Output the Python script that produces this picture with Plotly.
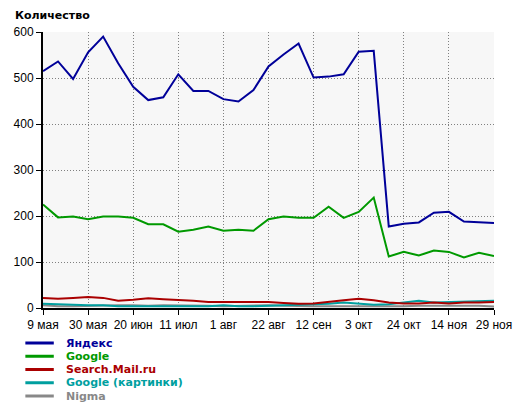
import plotly.graph_objects as go

# ---- data (weekly points) ----
week_index = list(range(31))
tick_positions = [0, 3, 6, 9, 12, 15, 18, 21, 24, 27, 30]
tick_labels = ["9 мая", "30 мая", "20 июн", "11 июл", "1 авг", "22 авг",
               "12 сен", "3 окт", "24 окт", "14 ноя", "29 ноя"]

yandex = [515, 536, 498, 556, 590, 532, 481, 452, 458, 508, 472, 472, 454, 449, 474, 525,
          551, 575, 501, 503, 508, 557, 559, 177, 183, 186, 207, 209, 188, 187, 185]
google = [225, 197, 199, 193, 199, 199, 196, 182, 182, 166, 170, 177, 168, 170, 168, 193,
          199, 196, 196, 220, 196, 209, 240, 112, 122, 114, 125, 122, 110, 120, 113]
search_mail = [22, 20, 22, 24, 22, 16, 18, 21, 19, 18, 16, 13, 13, 12, 12, 13,
               11, 9, 10, 14, 17, 20, 17, 12, 10, 10, 12, 10, 12, 12, 13]
google_images = [9, 8, 6, 6, 6, 4, 4, 4, 4, 4, 4, 4, 6, 4, 4, 5,
                 6, 7, 7, 9, 12, 10, 7, 8, 12, 16, 12, 13, 13, 15, 16]
nigma = [6, 4, 4, 5, 5, 6, 6, 5, 6, 6, 5, 5, 4, 5, 6, 6,
         5, 4, 4, 4, 4, 4, 4, 3, 4, 5, 5, 5, 5, 5, 3]

series_names = ["Яндекс", "Google", "Search.Mail.ru", "Google (картинки)", "Nigma"]
series_values = [yandex, google, search_mail, google_images, nigma]
series_colors = ["#000099", "#009900", "#aa0000", "#009f9f", "#888888"]

y_ticks = [0, 100, 200, 300, 400, 500, 600]

fig = go.Figure()
# draw in reverse so Яндекс is on top
for name, vals, col in reversed(list(zip(series_names, series_values, series_colors))):
    fig.add_trace(go.Scatter(x=week_index, y=vals, mode="lines", name=name,
                             line=dict(color=col, width=2), showlegend=False))

W, H = 524, 408
L, R, T, B = 43, 21, 32, 100
pw, ph = W - L - R, H - T - B

def px_to_paper_x(px):
    return (px - L) / pw

def py_to_paper_y(py):
    return (H - B - py) / ph

# manual compact legend
for i, (name, col) in enumerate(zip(series_names, series_colors)):
    py = 343 + i * 13.25
    yy = py_to_paper_y(py)
    fig.add_shape(type="line", xref="paper", yref="paper",
                  x0=px_to_paper_x(25), x1=px_to_paper_x(54), y0=yy, y1=yy,
                  line=dict(color=col, width=3))
    fig.add_annotation(xref="paper", yref="paper", x=px_to_paper_x(64), y=yy,
                       xanchor="left", yanchor="middle", showarrow=False,
                       text="<b>%s</b>" % name,
                       font=dict(family="DejaVu Sans", size=11, color=col))

fig.update_layout(
    width=W, height=H,
    margin=dict(l=L, r=R, t=T, b=B, pad=0),
    paper_bgcolor="white",
    plot_bgcolor="#f7f7f7",
    title=dict(text="<b>Количество</b>", x=15 / W, xanchor="left",
               y=1 - 15 / H, yanchor="middle", xref="container", yref="container",
               font=dict(family="DejaVu Sans", size=11, color="black")),
    font=dict(family="Liberation Sans", size=11, color="black"),
    showlegend=False,
)
fig.update_xaxes(range=[0, 30], tickmode="array", tickvals=tick_positions, ticktext=tick_labels,
                 showline=True, linecolor="black", linewidth=2,
                 ticks="outside", ticklen=5, tickcolor="black", tickwidth=1,
                 showgrid=True, gridcolor="#808080", griddash="1px,2px", gridwidth=1,
                 zeroline=False, tickfont=dict(size=12))
fig.update_yaxes(range=[0, 600], tickmode="array", tickvals=y_ticks,
                 showline=True, linecolor="black", linewidth=2,
                 ticks="outside", ticklen=5, tickcolor="black", tickwidth=1,
                 showgrid=True, gridcolor="#808080", griddash="1px,2px", gridwidth=1,
                 zeroline=False, tickfont=dict(size=12))

fig.write_html("out.html", config={"displayModeBar": False},
               post_script="document.body.style.margin='0';document.body.style.padding='0';")
